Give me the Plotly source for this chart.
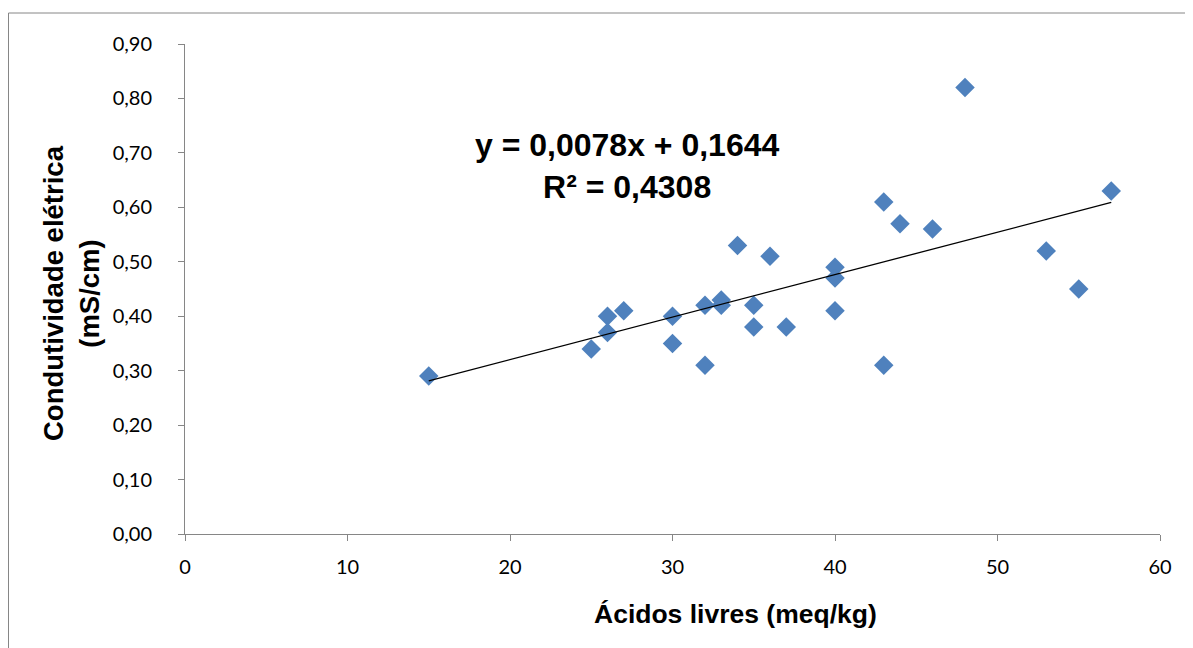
import plotly.graph_objects as go

acidos = [15, 25, 26, 26, 27, 30, 30, 32, 32, 33, 33, 34, 35, 35, 36, 37,
          40, 40, 40, 43, 43, 44, 46, 48, 53, 55, 57]
condutividade = [0.29, 0.34, 0.40, 0.37, 0.41, 0.40, 0.35, 0.42, 0.31, 0.43, 0.42, 0.53, 0.42, 0.38, 0.51, 0.38,
                 0.49, 0.47, 0.41, 0.61, 0.31, 0.57, 0.56, 0.82, 0.52, 0.45, 0.63]
slope = 0.0078
intercept = 0.1644
trend_x = [min(acidos), max(acidos)]
trend_y = [slope * v + intercept for v in trend_x]

fig = go.Figure()
fig.add_trace(go.Scatter(x=acidos, y=condutividade, mode="markers",
                         marker=dict(symbol="diamond", size=15, color="#4F81BD",
                                     line=dict(width=0)),
                         showlegend=False))
fig.add_trace(go.Scatter(x=trend_x, y=trend_y, mode="lines",
                         line=dict(color="black", width=1.3), showlegend=False))

axis_common = dict(showgrid=False, zeroline=False, showline=True, linecolor="#868686",
                   linewidth=1, ticks="outside", ticklen=6, tickcolor="#868686",
                   tickfont=dict(family="Lato, Open Sans, sans-serif", size=20, color="black"))

fig.update_xaxes(range=[0, 60], dtick=10, tick0=0, ticklabelstandoff=9, **axis_common)
fig.update_yaxes(range=[0, 0.9], dtick=0.1, tick0=0, tickformat=".2f",
                 ticklabelstandoff=22, **axis_common)

fig.add_annotation(x=(735 - 185) / 975, y=(533 - 613) / 490, xref="paper", yref="paper",
                   xanchor="center", yanchor="middle",
                   text="<b>Ácidos livres (meq/kg)</b>", showarrow=False,
                   font=dict(family="Liberation Sans, Arial", size=26.5, color="black"))
fig.add_annotation(x=(71 - 185) / 975, y=(533 - 292) / 490, xref="paper", yref="paper",
                   xanchor="center", yanchor="middle", textangle=-90,
                   text="<b>Condutividade elétrica<br>(mS/cm)</b>", showarrow=False,
                   font=dict(family="Liberation Sans, Arial", size=27.5, color="black"))

fig.add_annotation(x=(627 - 185) / 975, y=(533 - 165) / 490, xref="paper", yref="paper",
                   xanchor="center", yanchor="middle", align="center",
                   text="<b>y = 0,0078x + 0,1644<br>R² = 0,4308</b>", showarrow=False,
                   font=dict(family="Liberation Sans, Arial", size=32, color="black"))

fig.add_shape(type="rect", xref="paper", yref="paper",
              x0=(0.5 - 177) / 975, x1=(1179 - 177) / 975,
              y0=(526 - 660) / 490, y1=(526 - 5) / 490,
              line=dict(color="#868686", width=1), layer="below")

fig.update_layout(width=1185, height=640, separators=",.",
                  plot_bgcolor="white", paper_bgcolor="white",
                  margin=dict(l=177, r=33, t=36, b=114))

fig.write_html("out.html")
